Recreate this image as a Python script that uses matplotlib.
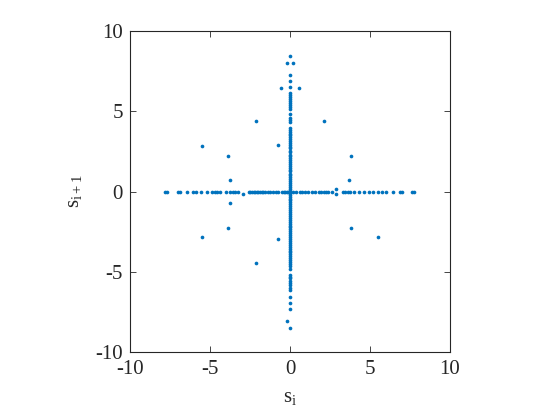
import matplotlib
matplotlib.use("Agg")
import matplotlib.pyplot as plt

plt.rcParams['font.family'] = ['Liberation Serif', 'DejaVu Serif']
plt.rcParams['mathtext.fontset'] = 'custom'
plt.rcParams['mathtext.rm'] = 'Liberation Serif'
plt.rcParams['mathtext.it'] = 'Liberation Serif'
plt.rcParams['axes.unicode_minus'] = False

# points on the vertical axis (x = 0)
axis_y = [8.47, 7.28, 6.9, 6.53, 6.14, 6.02, 5.9, 5.78, 5.65, 5.52, 5.4, 5.28, 5.15,
          4.82, 4.57, 4.46, 4.36, 3.95, 3.85, 3.72, 3.6, 3.5, 3.38, 3.25, 3.12, 3.0,
          2.9, 2.8, 2.68, 2.55, 2.43, 2.3, 2.2, 2.08, 1.95, 1.83, 1.72, 1.6, 1.48,
          1.36, 1.25, 1.12, 1.0, 0.88, 0.76, 0.64, 0.52, 0.4, 0.28, 0.16, 0.05, 0.0,
          -0.08, -0.2, -0.32, -0.44, -0.56, -0.68, -0.8, -0.92, -1.04, -1.16, -1.28,
          -1.4, -1.52, -1.64, -1.76, -1.88, -2.0, -2.12, -2.24, -2.36, -2.48, -2.6,
          -2.72, -2.84, -2.96, -3.08, -3.2, -3.32, -3.44, -3.56, -3.68, -3.8, -3.92,
          -4.04, -4.16, -4.28, -4.4, -4.52, -4.64, -4.8, -5.2, -5.3, -5.4, -5.6,
          -5.72, -5.85, -6.0, -6.15, -6.57, -6.93, -7.3, -8.5]

# points on the horizontal axis (y = 0)
axis_x = [-7.81, -7.67, -6.98, -6.88, -6.46, -6.04, -5.9, -5.58, -5.17, -4.9, -4.69,
          -4.54, -4.38, -4.0, -3.75, -3.58, -3.42, -3.27, -2.58, -2.48, -2.38, -2.28,
          -2.18, -2.08, -1.98, -1.88, -1.78, -1.67, -1.56, -1.4, -1.25, -1.05, -0.9,
          -0.75, -0.52, -0.4, -0.3, -0.2, -0.1, 0.2, 0.4, 0.6, 0.75, 0.95, 1.15, 1.35,
          1.56, 1.83, 1.95, 2.1, 2.25, 2.4, 2.6, 3.33, 3.45, 3.6, 3.75, 4.0, 4.33,
          4.65, 4.92, 5.17, 5.52, 5.77, 5.98, 6.46, 6.88, 6.98, 7.6, 7.75]

# scattered points off the axes
off_x = [-0.19, 0.17, -0.57, 0.56, -2.12, 2.1, -0.72, -5.52, -3.85, 3.81, -3.73, 3.69,
         2.9, 2.9, -2.92, -3.73, -3.85, 3.81, -5.52, 5.5, -0.72, -2.12, -0.19]
off_y = [8.0, 8.0, 6.45, 6.45, 4.41, 4.41, 2.9, 2.82, 2.24, 2.24, 0.72, 0.72,
         0.16, -0.16, -0.16, -0.74, -2.26, -2.26, -2.86, -2.86, -2.95, -4.43, -8.05]

ticks = [-10, -5, 0, 5, 10]

s_i = [0.0] * len(axis_y) + axis_x + off_x
s_next = axis_y + [0.0] * len(axis_x) + off_y

fig = plt.figure(figsize=(5.6, 4.2), dpi=100)
ax = fig.add_axes([130 / 560, 68 / 420, 320 / 560, 321 / 420])
ax.scatter(s_i, s_next, s=7, c='#0072BD', marker='o', linewidths=0)

ax.set_xlim(-10, 10)
ax.set_ylim(-10, 10)
ax.set_xticks(ticks)
ax.set_yticks(ticks)
ax.tick_params(direction='in', top=True, right=True, length=4, width=0.6,
               labelsize=15, colors='#262626')
ax.tick_params(axis='x', pad=6)
ax.tick_params(axis='y', pad=5)
for sp in ax.spines.values():
    sp.set_linewidth(0.8)
    sp.set_color('#262626')

ax.set_xlabel(r'$\mathrm{s}_{\mathrm{i}}$', fontsize=15, color='#262626', labelpad=6)
ax.set_ylabel(r'$\mathrm{s}_{\mathrm{i+1}}$', fontsize=15, color='#262626', labelpad=8)

fig.savefig('out.png', dpi=100)
